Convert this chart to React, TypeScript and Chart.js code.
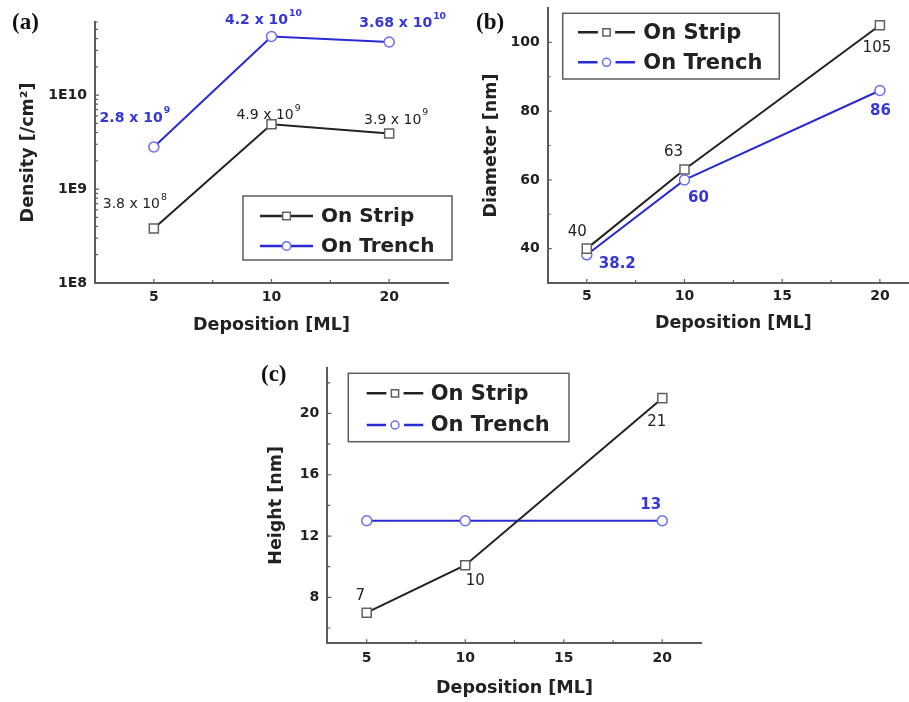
import React, { useEffect, useRef } from 'react';
import { Chart, registerables } from 'chart.js';

Chart.register(...registerables);

const SANS = '"DejaVu Sans", "Liberation Sans", Arial, sans-serif';
const SERIF = '"Liberation Serif", "DejaVu Serif", serif';
const INK = '#222222';
const AXIS = '#5c5c5c';
const BLUE = '#2a2ad2';
const BLUE_TEXT = '#3636d8';
const BLUE_MARK = '#6c6cee';
const GRAY_MARK = '#606060';

// ---------------- data ----------------
const seriesNames = ['On Strip', 'On Trench'];

// (a) density vs deposition
const depositionA = ['5', '10', '20'];
const densityStrip = [3.8e8, 4.9e9, 3.9e9];
const densityTrench = [2.8e9, 4.2e10, 3.68e10];
const densityStripText = ['3.8 x 10^8', '4.9 x 10^9', '3.9 x 10^9'];
const densityTrenchText = ['2.8 x 10^9', '4.2 x 10^10', '3.68 x 10^10'];
const densityTicks = [1e8, 1e9, 1e10];

// (b) diameter vs deposition
const deposition = [5, 10, 20];
const diameterStrip = [40, 63, 105];
const diameterTrench = [38.2, 60, 86];
const diameterStripText = ['40', '63', '105'];
const diameterTrenchText = ['38.2', '60', '86'];
const diameterTicks = [40, 60, 80, 100];
const depositionTicks = [5, 10, 15, 20];

// (c) height vs deposition
const heightStrip = [7, 10.1, 21];
const heightTrench = [13, 13, 13];
const heightStripText = ['7', '10', '21'];
const heightTrenchText = ['', '', '13'];
const heightTicks = [8, 12, 16, 20];

// ---------------- helpers ----------------
type Frame = { w: number; h: number; left: number; right: number; top: number; bottom: number };

const midpoints = (t: number[]) => t.slice(1).map((v, i) => (v + t[i]) / 2);

function zeroPad(s: any) {
  s.paddingTop = 0;
  s.paddingBottom = 0;
  s.paddingLeft = 0;
  s.paddingRight = 0;
}

function xScale(frame: Frame, extra: any, titlePadBottom: number, tickPad: number) {
  return {
    ...extra,
    position: 'bottom',
    grid: { display: false, drawTicks: false },
    border: { display: true, color: AXIS, width: 2 },
    ticks: {
      color: INK,
      font: { family: SANS, size: 14, weight: 'bold' },
      padding: tickPad,
      maxRotation: 0,
      autoSkip: false,
    },
    title: {
      display: true,
      text: 'Deposition [ML]',
      color: INK,
      font: { family: SANS, size: 17.5, weight: 'bold' },
      padding: { top: 0, bottom: titlePadBottom },
    },
    afterFit: (s: any) => {
      s.height = frame.h - frame.bottom;
      zeroPad(s);
    },
  };
}

function yScale(frame: Frame, extra: any, title: string, titlePadTop: number) {
  return {
    ...extra,
    position: 'left',
    grid: { display: false, drawTicks: false },
    border: { display: true, color: AXIS, width: 2 },
    ticks: {
      color: INK,
      font: { family: SANS, size: 14, weight: 'bold' },
      padding: 8,
      autoSkip: false,
      ...(extra.ticks || {}),
    },
    title: {
      display: true,
      text: title,
      color: INK,
      font: { family: SANS, size: 17.5, weight: 'bold' },
      padding: { top: titlePadTop, bottom: 0 },
    },
    afterFit: (s: any) => {
      s.width = frame.left;
      zeroPad(s);
    },
  };
}

function stripDataset(data: any[]) {
  return {
    label: seriesNames[0],
    data,
    borderColor: INK,
    borderWidth: 2,
    pointStyle: 'rect',
    pointRadius: 6.4,
    pointBorderColor: GRAY_MARK,
    pointBackgroundColor: '#ffffff',
    pointBorderWidth: 1.5,
    tension: 0,
  };
}

function trenchDataset(data: any[]) {
  return {
    label: seriesNames[1],
    data,
    borderColor: BLUE,
    borderWidth: 2,
    pointStyle: 'circle',
    pointRadius: 5,
    pointBorderColor: BLUE_MARK,
    pointBackgroundColor: '#ffffff',
    pointBorderWidth: 1.5,
    tension: 0,
  };
}

function innerTicks(cfg: { xMajor: number[]; xMinor: number[]; yMajor: number[]; yMinor: number[] }) {
  return {
    id: 'innerTicks',
    beforeDatasetsDraw(chart: any) {
      const { ctx, chartArea: a, scales } = chart;
      const xs = scales.x;
      const ys = scales.y;
      ctx.save();
      ctx.strokeStyle = AXIS;
      ctx.lineWidth = 1.2;
      ctx.beginPath();
      const xt = (v: number, len: number) => {
        const p = xs.getPixelForValue(v);
        ctx.moveTo(p, a.bottom);
        ctx.lineTo(p, a.bottom - len);
      };
      const yt = (v: number, len: number) => {
        const p = ys.getPixelForValue(v);
        ctx.moveTo(a.left, p);
        ctx.lineTo(a.left + len, p);
      };
      cfg.xMajor.forEach((v) => xt(v, 4));
      cfg.xMinor.forEach((v) => xt(v, 3));
      cfg.yMajor.forEach((v) => yt(v, 4));
      cfg.yMinor.forEach((v) => yt(v, 3));
      ctx.stroke();
      ctx.restore();
    },
  };
}

type TextSet = {
  dataset: number;
  texts: string[];
  offsets: number[][];
  color: string;
  weight: string;
  size: number;
};

function drawSupText(ctx: any, text: string, cx: number, cy: number, size: number, weight: string, color: string) {
  const [main, sup] = text.split('^');
  const mainFont = `${weight} ${size}px ${SANS}`;
  const supSize = size * 0.66;
  const supFont = `${weight} ${supSize}px ${SANS}`;
  ctx.font = mainFont;
  const w1 = ctx.measureText(main).width;
  let w2 = 0;
  if (sup) {
    ctx.font = supFont;
    w2 = ctx.measureText(sup).width + 1;
  }
  const x0 = cx - (w1 + w2) / 2;
  ctx.fillStyle = color;
  ctx.textAlign = 'left';
  ctx.textBaseline = 'middle';
  ctx.font = mainFont;
  ctx.fillText(main, x0, cy);
  if (sup) {
    ctx.font = supFont;
    ctx.fillText(sup, x0 + w1 + 1, cy - size * 0.5);
  }
}

function pointTexts(sets: TextSet[]) {
  return {
    id: 'pointTexts',
    afterDatasetsDraw(chart: any) {
      const ctx = chart.ctx;
      ctx.save();
      sets.forEach((set) => {
        const meta = chart.getDatasetMeta(set.dataset);
        set.texts.forEach((t, i) => {
          if (!t) return;
          const el = meta.data[i];
          const [dx, dy] = set.offsets[i];
          drawSupText(ctx, t, el.x + dx, el.y + dy, set.size, set.weight, set.color);
        });
      });
      ctx.restore();
    },
  };
}

type LegendCfg = {
  box: number[];
  rows: number[];
  sample: number[];
  textX: number;
  fontSize: number;
  gap: number;
  markerScale: number;
};

function boxLegend(cfg: LegendCfg) {
  return {
    id: 'boxLegend',
    afterDraw(chart: any) {
      const ctx = chart.ctx;
      const [x0, y0, x1, y1] = cfg.box;
      ctx.save();
      ctx.fillStyle = '#ffffff';
      ctx.fillRect(x0, y0, x1 - x0, y1 - y0);
      ctx.strokeStyle = AXIS;
      ctx.lineWidth = 1.5;
      ctx.strokeRect(x0, y0, x1 - x0, y1 - y0);
      chart.data.datasets.forEach((ds: any, i: number) => {
        const y = cfg.rows[i];
        const [s0, s1] = cfg.sample;
        const mx = (s0 + s1) / 2;
        const r = ds.pointRadius * cfg.markerScale;
        const half = ds.pointStyle === 'rect' ? r * Math.SQRT1_2 : r;
        ctx.strokeStyle = ds.borderColor;
        ctx.lineWidth = 2.4;
        ctx.beginPath();
        ctx.moveTo(s0, y);
        ctx.lineTo(mx - half - cfg.gap, y);
        ctx.moveTo(mx + half + cfg.gap, y);
        ctx.lineTo(s1, y);
        ctx.stroke();
        ctx.fillStyle = '#ffffff';
        ctx.strokeStyle = ds.pointBorderColor;
        ctx.lineWidth = 1.5;
        ctx.beginPath();
        if (ds.pointStyle === 'rect') ctx.rect(mx - half, y - half, half * 2, half * 2);
        else ctx.arc(mx, y, r, 0, Math.PI * 2);
        ctx.fill();
        ctx.stroke();
        ctx.fillStyle = INK;
        ctx.font = `bold ${cfg.fontSize}px ${SANS}`;
        ctx.textAlign = 'left';
        ctx.textBaseline = 'middle';
        ctx.fillText(ds.label, cfg.textX, y + 1);
      });
      ctx.restore();
    },
  };
}

function baseOptions(frame: Frame, scales: any) {
  return {
    responsive: false,
    animation: false,
    devicePixelRatio: 1,
    layout: { padding: { left: 0, top: frame.top, right: frame.w - frame.right, bottom: 0 } },
    plugins: { legend: { display: false }, tooltip: { enabled: false } },
    scales,
  };
}

// ---------------- panel configs ----------------
const FR_A: Frame = { w: 460, h: 336, left: 95, right: 448, top: 22, bottom: 283 };
const FR_B: Frame = { w: 470, h: 334, left: 87.7, right: 459, top: 8, bottom: 283 };
const FR_C: Frame = { w: 480, h: 372, left: 87.3, right: 461.7, top: 37.5, bottom: 313.3 };

function buildA(): any {
  const yMax = 6e10;
  const yMinor: number[] = [];
  densityTicks.forEach((d) => {
    for (let k = 2; k <= 9; k++) if (k * d <= yMax) yMinor.push(k * d);
  });
  const idx = depositionA.map((_, i) => i);
  return {
    type: 'line',
    data: {
      labels: depositionA,
      datasets: [stripDataset(densityStrip), trenchDataset(densityTrench)],
    },
    options: baseOptions(FR_A, {
      x: xScale(FR_A, { type: 'category', offset: true }, 0, 6),
      y: yScale(
        FR_A,
        {
          type: 'logarithmic',
          min: densityTicks[0],
          max: yMax,
          afterBuildTicks: (s: any) => {
            s.ticks = densityTicks.map((v) => ({ value: v }));
          },
          ticks: { callback: (v: any) => '1E' + Math.round(Math.log10(Number(v))) },
        },
        'Density [/cm²]',
        17.5
      ),
    }),
    plugins: [
      innerTicks({ xMajor: idx, xMinor: midpoints(idx), yMajor: densityTicks, yMinor }),
      pointTexts([
        { dataset: 0, texts: densityStripText, offsets: [[-19, -24], [-3, -9], [7, -13.5]], color: INK, weight: 'normal', size: 14 },
        { dataset: 1, texts: densityTrenchText, offsets: [[-19, -29], [-8, -16], [13.5, -18.5]], color: BLUE_TEXT, weight: 'bold', size: 14 },
      ]),
      boxLegend({ box: [243, 196, 452, 260], rows: [216, 246], sample: [260, 313], textX: 321, fontSize: 20, gap: 0, markerScale: 0.85 }),
    ],
  };
}

function buildB(): any {
  return {
    type: 'line',
    data: {
      datasets: [
        stripDataset(deposition.map((d, i) => ({ x: d, y: diameterStrip[i] }))),
        trenchDataset(deposition.map((d, i) => ({ x: d, y: diameterTrench[i] }))),
      ],
    },
    options: baseOptions(FR_B, {
      x: xScale(
        FR_B,
        {
          type: 'linear',
          min: 3,
          max: 22,
          afterBuildTicks: (s: any) => {
            s.ticks = depositionTicks.map((v) => ({ value: v }));
          },
          ticks: {},
        },
        0,
        5
      ),
      y: yScale(
        FR_B,
        {
          type: 'linear',
          min: 30,
          max: 110,
          afterBuildTicks: (s: any) => {
            s.ticks = diameterTicks.map((v) => ({ value: v }));
          },
          ticks: { callback: (v: any) => String(v) },
        },
        'Diameter [nm]',
        21
      ),
    }),
    plugins: [
      innerTicks({ xMajor: depositionTicks, xMinor: midpoints(depositionTicks), yMajor: diameterTicks, yMinor: midpoints(diameterTicks) }),
      pointTexts([
        { dataset: 0, texts: diameterStripText, offsets: [[-9.5, -16.5], [-11, -17], [-3, 23]], color: INK, weight: 'normal', size: 15 },
        { dataset: 1, texts: diameterTrenchText, offsets: [[30.5, 9], [14, 18], [0.5, 20.5]], color: BLUE_TEXT, weight: 'bold', size: 15 },
      ]),
      boxLegend({ box: [102.7, 13.3, 319.3, 79], rows: [32.3, 62.3], sample: [118, 175], textX: 183.3, fontSize: 21, gap: 5, markerScale: 0.8 }),
    ],
  };
}

function buildC(): any {
  const yMinor = [6, ...midpoints(heightTicks), 22];
  return {
    type: 'line',
    data: {
      datasets: [
        stripDataset(deposition.map((d, i) => ({ x: d, y: heightStrip[i] }))),
        trenchDataset(deposition.map((d, i) => ({ x: d, y: heightTrench[i] }))),
      ],
    },
    options: baseOptions(FR_C, {
      x: xScale(
        FR_C,
        {
          type: 'linear',
          min: 3,
          max: 22,
          afterBuildTicks: (s: any) => {
            s.ticks = depositionTicks.map((v) => ({ value: v }));
          },
          ticks: {},
        },
        3.5,
        7
      ),
      y: yScale(
        FR_C,
        {
          type: 'linear',
          min: 5,
          max: 23,
          afterBuildTicks: (s: any) => {
            s.ticks = heightTicks.map((v) => ({ value: v }));
          },
          ticks: { callback: (v: any) => String(v) },
        },
        'Height [nm]',
        25.5
      ),
    }),
    plugins: [
      innerTicks({ xMajor: depositionTicks, xMinor: midpoints(depositionTicks), yMajor: heightTicks, yMinor }),
      pointTexts([
        { dataset: 0, texts: heightStripText, offsets: [[-6.5, -17], [10, 15.5], [-5.5, 23.5]], color: INK, weight: 'normal', size: 15 },
        { dataset: 1, texts: heightTrenchText, offsets: [[0, 0], [0, 0], [-11.5, -15.5]], color: BLUE_TEXT, weight: 'bold', size: 15 },
      ]),
      boxLegend({ box: [108.3, 43.3, 329, 111.7], rows: [63.3, 95], sample: [126.7, 183.3], textX: 190.7, fontSize: 21, gap: 5, markerScale: 0.8 }),
    ],
  };
}

// ---------------- components ----------------
function Panel(props: { left: number; top: number; frame: Frame; build: () => any }) {
  const ref = useRef<HTMLCanvasElement>(null);
  useEffect(() => {
    const chart = new Chart(ref.current as HTMLCanvasElement, props.build());
    return () => chart.destroy();
  }, []);
  const { w, h } = props.frame;
  return (
    <div style={{ position: 'absolute', left: props.left, top: props.top, width: w, height: h }}>
      <canvas ref={ref} width={w} height={h} style={{ width: w, height: h, display: 'block' }} />
    </div>
  );
}

function PanelTag(props: { text: string; left: number; cy: number }) {
  return (
    <div
      style={{
        position: 'absolute',
        left: props.left,
        top: props.cy - 13,
        height: 26,
        lineHeight: '26px',
        fontFamily: SERIF,
        fontWeight: 'bold',
        fontSize: 23,
        color: '#111',
        whiteSpace: 'nowrap',
      }}
    >
      {props.text}
    </div>
  );
}

export default function App() {
  return (
    <div
      style={{
        position: 'fixed',
        left: 0,
        top: 0,
        width: 909,
        height: 702,
        overflow: 'hidden',
        background: '#ffffff',
      }}
    >
      <Panel left={0} top={0} frame={FR_A} build={buildA} />
      <Panel left={460} top={0} frame={FR_B} build={buildB} />
      <Panel left={240} top={330} frame={FR_C} build={buildC} />
      <PanelTag text="(a)" left={12} cy={21.7} />
      <PanelTag text="(b)" left={476} cy={21.7} />
      <PanelTag text="(c)" left={261} cy={374} />
    </div>
  );
}
